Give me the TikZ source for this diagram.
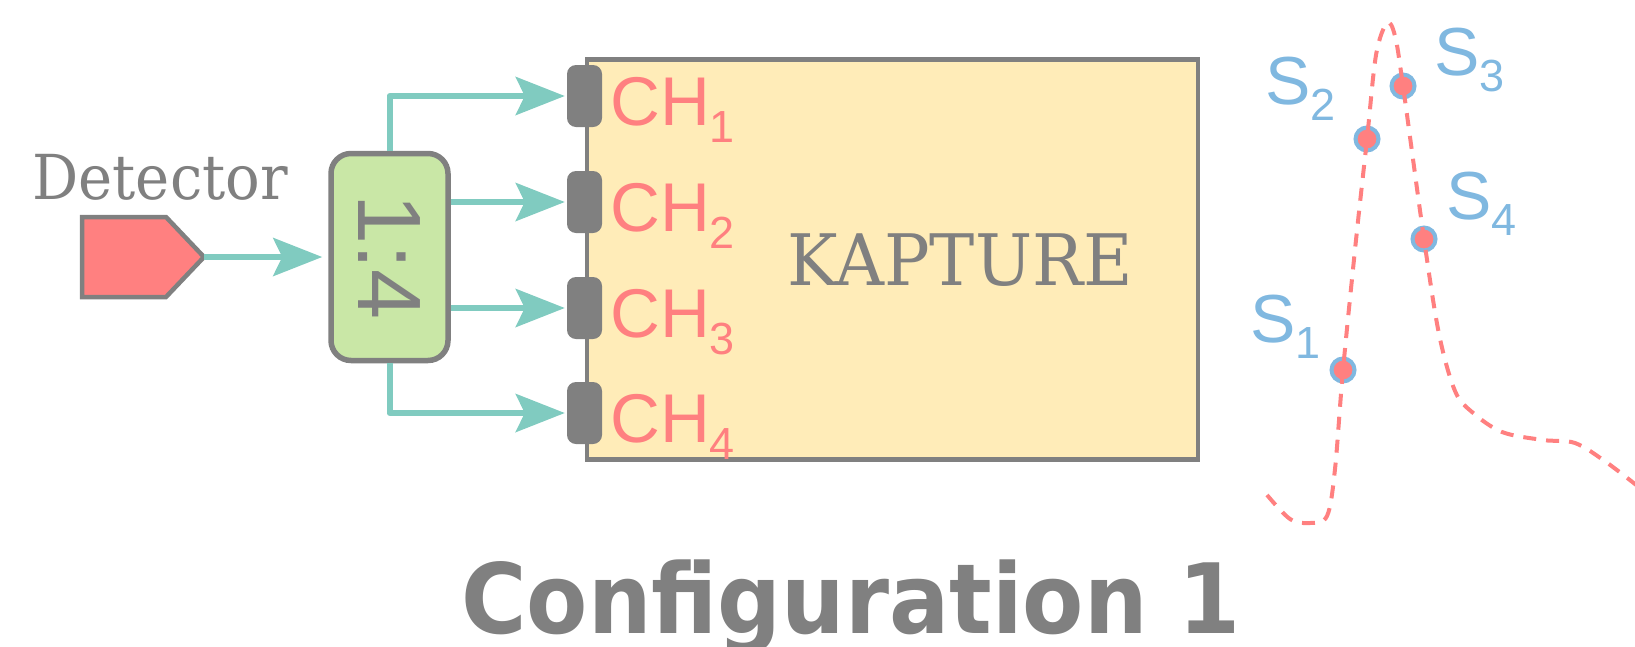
\documentclass[tikz,border=0pt]{standalone}
\usepackage{fontspec}
\setmainfont{DejaVu Serif}
\newfontfamily\lsans{Liberation Sans}
\newfontfamily\djsans{DejaVu Sans}
\usetikzlibrary{arrows.meta}
\definecolor{cgray}{HTML}{808080}
\definecolor{cred}{HTML}{FF8080}
\definecolor{cteal}{HTML}{80CBC0}
\definecolor{cgreen}{HTML}{C9E7A6}
\definecolor{cyellow}{HTML}{FFECB8}
\definecolor{cblue}{HTML}{80B8E0}
\newcommand{\mysub}[2]{\raisebox{-#1pt}{\fontsize{45}{45}\selectfont #2}}
\begin{document}
\begin{tikzpicture}[x=1pt,y=-1pt,
  conn/.style={draw=cteal, line width=6pt, line join=round,
    -{Stealth[length=49pt,width=38pt,inset=9pt]}, shorten >=2pt},
  port/.style={fill=cgray, rounded corners=9pt, minimum width=35pt,
    minimum height=62pt, inner sep=0pt},
  chlabel/.style={text=cred, font=\lsans\fontsize{69}{69}\selectfont,
    anchor=base west, inner sep=0pt},
  slabel/.style={text=cblue, font=\lsans\fontsize{68}{68}\selectfont,
    anchor=base west, inner sep=0pt},
  dot/.style={circle, draw=cblue, fill=cred, line width=4pt,
    minimum size=23pt, inner sep=0pt},
  graytext/.style={text=cgray, inner sep=0pt}]
\useasboundingbox (0,0) rectangle (1635,646);

% detector
\draw[draw=cgray, fill=cred, line width=4.5pt]
  (82,217) -- (166,217) -- (204,257) -- (166,297) -- (82,297) -- cycle;
\coordinate (dettip) at (204,257);
\node[graytext, anchor=base, font=\fontsize{62}{62}\selectfont] (detlabel) at (160,199)
  {\scalebox{0.93}[1]{Detector}};

% splitter
\node[draw=cgray, fill=cgreen, line width=5.5pt, rounded corners=20pt,
  minimum width=117pt, minimum height=207pt, inner sep=0pt] (split) at (389.5,257) {};
\node[graytext, rotate=-90, font=\lsans\fontsize{90}{90}\selectfont] (ratio) at (split.center) {1:4};

% KAPTURE box
\node[draw=cgray, fill=cyellow, line width=4.5pt, minimum width=611pt,
  minimum height=400pt, inner sep=0pt] (kap) at (892.5,259.5) {};
\node[graytext, anchor=base, font=\fontsize{71}{71}\selectfont] (kaplabel) at (960,285)
  {\scalebox{0.955}[1]{KAPTURE}};

% ports
\node[port] (p1) at (584.5,96) {};
\node[port] (p2) at (584.5,202) {};
\node[port] (p3) at (584.5,308) {};
\node[port] (p4) at (584.5,413) {};

\node[chlabel] (ch1) at (610,125) {CH\mysub{17}{1}};
\node[chlabel] (ch2) at (610,231) {CH\mysub{17}{2}};
\node[chlabel] (ch3) at (610,337) {CH\mysub{17}{3}};
\node[chlabel] (ch4) at (610,442) {CH\mysub{17}{4}};

% connectors
\draw[conn, shorten >=6pt] (dettip) -- (split.west);
\draw[conn] (split.north) |- (p1.west);
\draw[conn] (split.east |- p2.west) -- (p2.west);
\draw[conn] (split.east |- p3.west) -- (p3.west);
\draw[conn] (split.south) |- (p4.west);

% pulse samples
\node[dot] (s1) at (1343,370) {};
\node[dot] (s2) at (1367,139) {};
\node[dot] (s3) at (1403,86) {};
\node[dot] (s4) at (1424,239) {};
\draw[cred, line width=4pt, dash pattern=on 13pt off 10pt]
  plot[smooth, tension=0.55] coordinates {
  (1267,495) (1290,519) (1310,523) (1327,516) (1335,469) (1343,370)
  (1356,240) (1367,139) (1376,55) (1387,23) (1395,36) (1403,86)
  (1424,239) (1439,334) (1455,391) (1472,412) (1502,432) (1543,440)
  (1575,443) (1606,462) (1640,488)};

\node[slabel] (l1) at (1250,342) {S\mysub{16}{1}};
\node[slabel] (l2) at (1265,104) {S\mysub{16}{2}};
\node[slabel] (l3) at (1434,75) {S\mysub{16}{3}};
\node[slabel] (l4) at (1446,219) {S\mysub{16}{4}};

% caption
\node[graytext, anchor=base, font=\djsans\bfseries\fontsize{97}{97}\selectfont] (cap) at (851,633)
  {\scalebox{0.92}[1]{Configuration 1}};
\end{tikzpicture}
\end{document}
